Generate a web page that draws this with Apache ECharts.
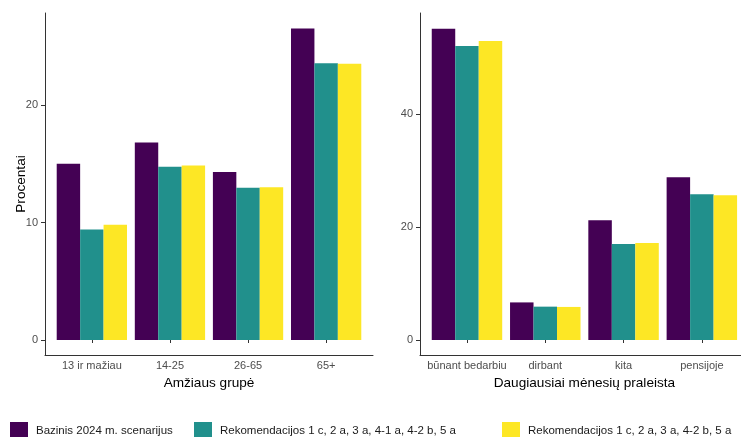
<!DOCTYPE html>
<html lang="lt">
<head>
    <meta charset="utf-8">
    <title></title>
    <script src="https://cdn.jsdelivr.net/npm/echarts@6/dist/echarts.min.js"></script>
    <style>
        html, body {margin: 0; padding: 0; background: #fff;}
        #main {width: 741px; height: 437px;}
    </style>
</head>
<body>
<div id="main"></div>
<script type="text/javascript">
    // duomenys
    var ageCats = ['13 ir mažiau', '14-25', '26-65', '65+'];
    var activityCats = ['būnant bedarbiu', 'dirbant', 'kita', 'pensijoje'];
    var seriesNames = [
        'Bazinis 2024 m. scenarijus',
        'Rekomendacijos 1 c, 2 a, 3 a, 4-1 a, 4-2 b, 5 a',
        'Rekomendacijos 1 c, 2 a, 3 a, 4-2 b, 5 a'
    ];
    var ageBase = [15.0, 16.8, 14.3, 26.5];
    var ageRec1 = [9.4, 14.75, 12.95, 23.55];
    var ageRec2 = [9.8, 14.85, 13.0, 23.5];
    var actBase = [55.05, 6.65, 21.2, 28.8];
    var actRec1 = [52.0, 5.9, 17.0, 25.8];
    var actRec2 = [52.9, 5.85, 17.15, 25.6];
    var ageTicks = [0, 10, 20];
    var actTicks = [0, 20, 40];

    var colors = ['#440154', '#21908C', '#FDE725'];
    var font = 'Liberation Sans, Arial, sans-serif';

    var myChart = echarts.init(document.getElementById('main'));

    // ggplot: 0.6 kategorijos tarpas kraštuose
    var lBand = 328 / 4.2;
    var rBand = 329 / 4.2;

    function frameX(i) {
        return {
            type: 'value', gridIndex: i, min: 0, max: 1,
            axisLine: {show: true, lineStyle: {color: '#333', width: 1}},
            axisTick: {show: false}, axisLabel: {show: false}, splitLine: {show: false}
        };
    }
    function frameY(i, name) {
        return {
            type: 'value', gridIndex: i, min: 0, max: 1,
            name: name, nameLocation: 'middle', nameGap: 17,
            nameTextStyle: {color: '#000', fontSize: 13.6, fontFamily: font},
            axisLine: {show: true, lineStyle: {color: '#333', width: 1}},
            axisTick: {show: false}, axisLabel: {show: false}, splitLine: {show: false}
        };
    }
    function dataX(i, cats, name) {
        return {
            type: 'category', gridIndex: i, data: cats, offset: 15,
            name: name, nameLocation: 'middle', nameGap: 19,
            nameTextStyle: {color: '#000', fontSize: 13.6, fontFamily: font},
            axisLine: {show: false},
            axisTick: {show: true, alignWithLabel: true, length: 3, lineStyle: {color: '#333'}},
            axisLabel: {color: '#4d4d4d', fontSize: 11, fontFamily: font, margin: 5, interval: 0}
        };
    }
    function dataY(i, max, ticks, off) {
        return {
            type: 'value', gridIndex: i, min: 0, max: max, offset: off,
            axisLine: {show: false},
            axisTick: {show: true, length: 4, customValues: ticks, lineStyle: {color: '#333'}},
            axisLabel: {color: '#4d4d4d', fontSize: 11, fontFamily: font, margin: 7, customValues: ticks},
            splitLine: {show: false}
        };
    }
    function bars(name, data, xi, color) {
        return {
            name: name, type: 'bar', xAxisIndex: xi, yAxisIndex: xi,
            data: data, barWidth: '30%', barGap: '0%',
            itemStyle: {color: color}, silent: true, animation: false
        };
    }
    function legendAt(left, idx) {
        return {
            left: left, top: 422, padding: 0, icon: 'rect', itemWidth: 18, itemHeight: 18,
            data: [seriesNames[idx]], selectedMode: false,
            textStyle: {color: '#1a1a1a', fontSize: 11.5, fontFamily: font, padding: [6, 0, 0, 3]}
        };
    }

    var option = {
        animation: false,
        color: colors,
        legend: [legendAt(10, 0), legendAt(194, 1), legendAt(502, 2)],
        grid: [
            {left: 45, top: 13, width: 328, height: 342},
            {left: 45 + 0.1 * lBand, top: 13, width: 4 * lBand, height: 327},
            {left: 420, top: 13, width: 329, height: 342},
            {left: 420 + 0.1 * rBand, top: 13, width: 4 * rBand, height: 327}
        ],
        xAxis: [
            frameX(0),
            dataX(1, ageCats, 'Amžiaus grupė'),
            frameX(2),
            dataX(3, activityCats, 'Daugiausiai mėnesių praleista')
        ],
        yAxis: [
            frameY(0, 'Procentai'),
            dataY(1, 27.825, ageTicks, 0.1 * lBand),
            frameY(2, ''),
            dataY(3, 57.85, actTicks, 0.1 * rBand)
        ],
        series: [
            bars(seriesNames[0], ageBase, 1, colors[0]),
            bars(seriesNames[1], ageRec1, 1, colors[1]),
            bars(seriesNames[2], ageRec2, 1, colors[2]),
            bars(seriesNames[0], actBase, 3, colors[0]),
            bars(seriesNames[1], actRec1, 3, colors[1]),
            bars(seriesNames[2], actRec2, 3, colors[2])
        ]
    };
    myChart.setOption(option);
</script>
</body>
</html>
